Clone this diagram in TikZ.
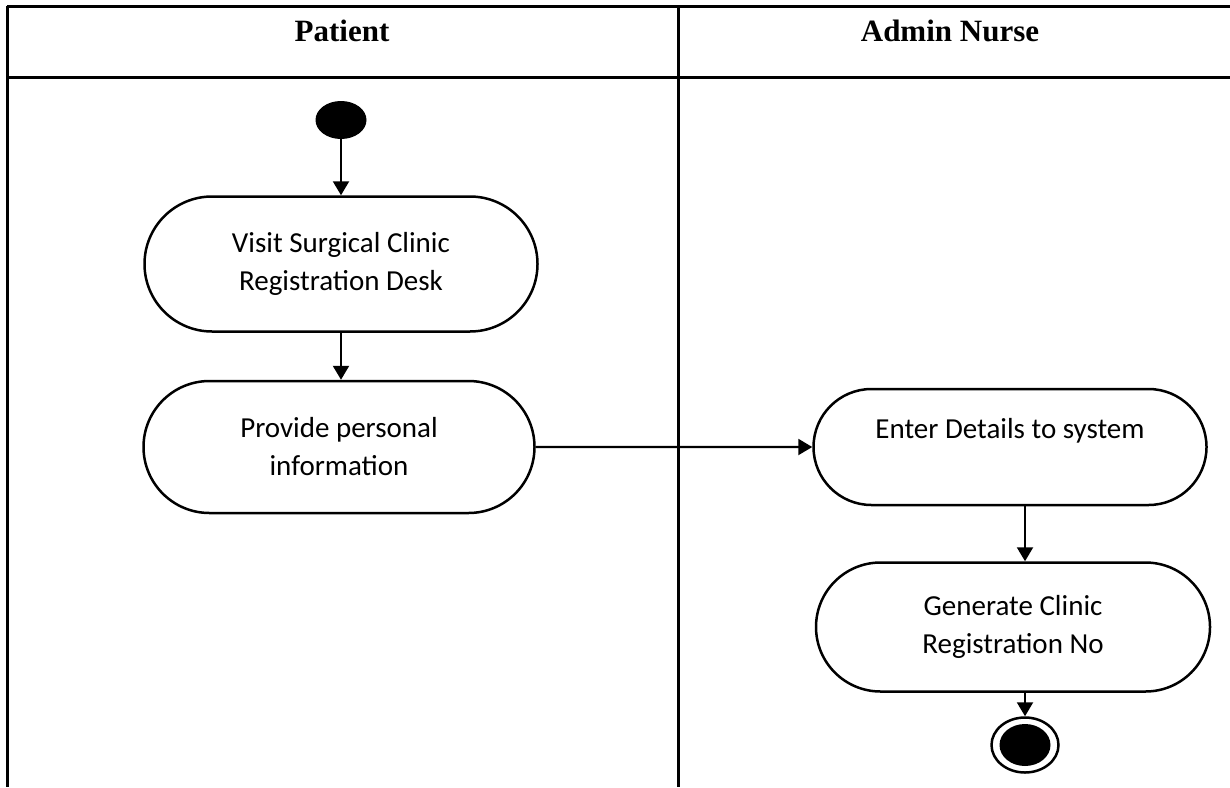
\documentclass[tikz,border=0pt]{standalone}
\usepackage{fontspec}
\setmainfont{Carlito}
\newfontfamily\headfont{Liberation Serif}
\usetikzlibrary{arrows.meta,positioning,calc,shapes.misc,shapes.geometric}
\newcommand \mylane[4]
{
\draw[lane] (#1,6)--(#1,787);
\node[head] (#4) at (#2,41) {#3};
}

\begin{document}
\begin{tikzpicture}[x=1pt,y=-1pt,line join=round,
  lane/.style={line width=3pt},
  head/.style={anchor=base,font=\headfont\bfseries\fontsize{31}{36}\selectfont},
  act/.style={draw,rounded rectangle,line width=2.5pt,align=center,inner sep=0pt,
    font=\fontsize{29}{38}\selectfont},
  flow/.style={-{Triangle[length=14pt,width=16pt]},line width=2.2pt}]
\useasboundingbox (0,0) rectangle (1230,787);
% swimlanes
\draw[lane] (7,6)--(1230,6);
\draw[lane] (7,77)--(1230,77);
\mylane{7}{342}{Patient}{patient}
\mylane{678}{950}{Admin Nurse}{nurse}
% start and end
\node[fill,ellipse,inner sep=0pt,minimum width=51pt,minimum height=38pt] (start) at (341,120) {};
\node[draw,ellipse,line width=2.5pt,inner sep=0pt,minimum width=67pt,minimum height=55pt] (stop) at (1025,745) {};
\fill (stop.center) ellipse (25.5 and 21);
% activities
\node[act,minimum width=393pt,minimum height=135pt] (visit) at (341,264) {Visit Surgical Clinic\\Registration Desk};
\node[act,minimum width=391pt,minimum height=132pt] (provide) at (339,447) {Provide personal\\information};
\node[act,minimum width=393pt,minimum height=116pt] (enter) at (1010,447) {Enter Details to system\\ \mbox{}};
\node[act,minimum width=394pt,minimum height=129pt] (generate) at (1013,627) {Generate Clinic\\Registration No};
% flows
\draw[flow] (start)--(visit);
\draw[flow] (visit.south)--(visit.south |- provide.north);
\draw[flow] (provide)--(enter);
\draw[flow] (enter.south -| stop)--(generate.north -| stop);
\draw[flow] (generate.south -| stop)--(stop);
\end{tikzpicture}
\end{document}
